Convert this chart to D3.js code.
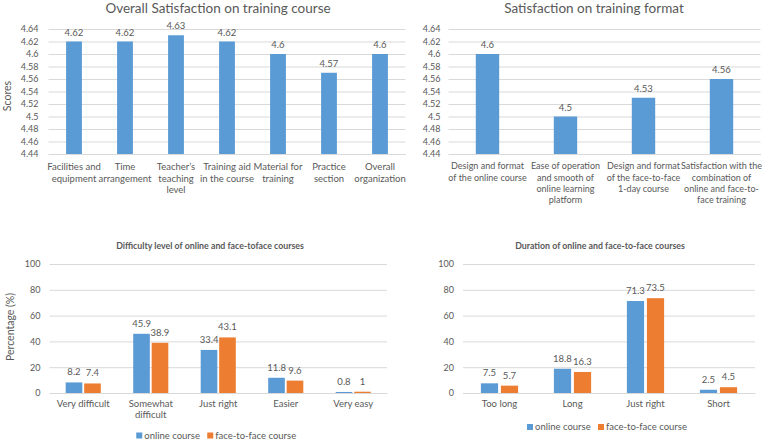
<!DOCTYPE html>
<html>
<head>
<meta charset="utf-8">
<script src="https://cdn.jsdelivr.net/npm/d3@7"></script>
<style>
  body { margin: 0; background: #fff; }
  text { font-family: Lato, "Open Sans", sans-serif; fill: #595959; }
</style>
</head>
<body>
<div id="charts"></div>
<script>
// ---- data ----
var satCategories = ["Facilities and\nequipment", "Time\narrangement", "Teacher\u2019s\nteaching\nlevel",
  "Training aid\nin the course", "Material for\ntraining", "Practice\nsection", "Overall\norganization"];
var satValues = [4.62, 4.62, 4.63, 4.62, 4.6, 4.57, 4.6];

var formatCategories = ["Design and format\nof the online course",
  "Ease of operation\nand smooth of\nonline learning\nplatform",
  "Design and format\nof the face-to-face\n1-day course",
  "Satisfaction with the\ncombination of\nonline and face-to-\nface training"];
var formatValues = [4.6, 4.5, 4.53, 4.56];

var scoreTicks = [4.44, 4.46, 4.48, 4.5, 4.52, 4.54, 4.56, 4.58, 4.6, 4.62, 4.64];

var difficultyCategories = ["Very difficult", "Somewhat\ndifficult", "Just right", "Easier", "Very easy"];
var difficultyOnline = [8.2, 45.9, 33.4, 11.8, 0.8];
var difficultyF2F = [7.4, 38.9, 43.1, 9.6, 1];

var durationCategories = ["Too long", "Long", "Just right", "Short"];
var durationOnline = [7.5, 18.8, 71.3, 2.5];
var durationF2F = [5.7, 16.3, 73.5, 4.5];

var pctTicks = [0, 20, 40, 60, 80, 100];
var seriesNames = ["online course", "face-to-face course"];
var seriesColors = ["#5B9BD5", "#ED7D31"];

var grid = "#D9D9D9";

var svg = d3.select("#charts")
  .append("svg")
  .attr("width", 762)
  .attr("height", 441);

// multi-line tick labels
function wrapLabels(sel, lineH) {
  sel.each(function(d) {
    var t = d3.select(this);
    var lines = d.split("\n");
    t.text(null);
    lines.forEach(function(l, i) {
      t.append("tspan").attr("x", 0).attr("dy", i == 0 ? "0.71em" : lineH).text(l);
    });
  });
}

function yAxis(g, y, ticks, left, right, pad, fmt) {
  var ax = g.append("g")
    .attr("transform", "translate(" + left + ",0)")
    .call(d3.axisLeft(y).tickValues(ticks).tickSize(-(right - left)).tickPadding(pad).tickFormat(fmt));
  ax.select(".domain").remove();
  ax.selectAll("line").attr("stroke", grid);
  ax.selectAll("text").style("font-size", "9px").style("fill", "#595959");
}

function xAxis(g, x, y0, labelY, lineH, fs) {
  var ax = g.append("g")
    .attr("transform", "translate(0," + y0 + ")")
    .call(d3.axisBottom(x).tickSize(0).tickPadding(0));
  ax.select(".domain").attr("stroke", grid);
  ax.selectAll("text")
    .attr("y", labelY - y0)
    .style("font-size", fs).style("fill", "#595959")
    .call(wrapLabels, lineH);
}

// ---- score charts (top) ----
function scoreChart(cats, vals, left, right, padding, title, titleX, tickPad, catFont) {
  var g = svg.append("g");
  var y = d3.scaleLinear().domain([4.44, 4.64]).range([154, 29]);
  var x = d3.scaleBand().domain(cats).range([left, right])
    .paddingInner(padding).paddingOuter(padding / 2);

  yAxis(g, y, scoreTicks, left, right, tickPad, function(d) { return +d.toFixed(2); });
  xAxis(g, x, 154, 163, "1.25em", catFont);

  g.selectAll(".bar")
    .data(vals)
    .enter()
    .append("rect")
    .attr("x", function(d, i) { return x(cats[i]); })
    .attr("width", x.bandwidth())
    .attr("y", function(d) { return y(d); })
    .attr("height", function(d) { return y(4.44) - y(d); })
    .attr("fill", seriesColors[0]);

  g.selectAll(".val")
    .data(vals)
    .enter()
    .append("text")
    .attr("x", function(d, i) { return x(cats[i]) + x.bandwidth() / 2; })
    .attr("y", function(d) { return y(d) - 6; })
    .attr("text-anchor", "middle")
    .style("font-size", "9.5px")
    .text(function(d) { return d; });

  g.append("text")
    .attr("x", titleX).attr("y", 13)
    .attr("text-anchor", "middle")
    .style("font-size", "13.5px")
    .text(title);
}

scoreChart(satCategories, satValues, 48.5, 405.5, 0.69, "Overall Satisfaction on training course", 218, 10, "9.5px");
scoreChart(formatCategories, formatValues, 448.5, 760.5, 0.7, "Satisfaction on training format", 594, 8, "9px");

svg.append("text")
  .attr("transform", "translate(11,96)rotate(-90)")
  .attr("text-anchor", "middle")
  .style("font-size", "10.5px")
  .text("Scores");

// ---- percentage charts (bottom) ----
function groupedChart(cats, online, f2f, left, right, padding, inner, title, titleX, tickPad, legendY) {
  var g = svg.append("g");
  var y = d3.scaleLinear().domain([0, 100]).range([393, 264]);
  var x = d3.scaleBand().domain(cats).range([left, right])
    .paddingInner(padding).paddingOuter(padding / 2);
  var x1 = d3.scaleBand().domain([0, 1]).range([0, x.bandwidth()]).paddingInner(inner);

  yAxis(g, y, pctTicks, left, right, tickPad, function(d) { return d; });
  xAxis(g, x, 393, 400, "1.2em", "9.5px");

  var rows = cats.map(function(c, i) { return {cat: c, vals: [online[i], f2f[i]]}; });
  var groups = g.selectAll(".grp")
    .data(rows)
    .enter()
    .append("g")
    .attr("transform", function(d) { return "translate(" + x(d.cat) + ",0)"; });

  groups.selectAll("rect")
    .data(function(d) { return d.vals; })
    .enter()
    .append("rect")
    .attr("x", function(d, i) { return x1(i); })
    .attr("width", x1.bandwidth())
    .attr("y", function(d) { return y(d); })
    .attr("height", function(d) { return y(0) - y(d); })
    .attr("fill", function(d, i) { return seriesColors[i]; });

  groups.selectAll("text.val")
    .data(function(d) { return d.vals; })
    .enter()
    .append("text")
    .attr("x", function(d, i) { return x1(i) + x1.bandwidth() / 2; })
    .attr("y", function(d) { return y(d) - 7; })
    .attr("text-anchor", "middle")
    .style("font-size", "9.5px")
    .text(function(d) { return d; });

  g.append("text")
    .attr("x", titleX).attr("y", 248.5)
    .attr("text-anchor", "middle")
    .style("font-size", "8.8px")
    .style("font-weight", "bold")
    .text(title);

  // legend
  var lg = g.append("g").attr("transform", "translate(" + ((left + right) / 2 - 82) + "," + legendY + ")");
  var item = lg.selectAll(".item")
    .data(seriesNames)
    .enter()
    .append("g")
    .attr("transform", function(d, i) { return "translate(" + (i * 71) + ",0)"; });
  item.append("rect").attr("x", 0).attr("y", -3).attr("width", 6).attr("height", 6)
    .attr("fill", function(d, i) { return seriesColors[i]; });
  item.append("text").attr("x", 8).attr("y", 0).attr("dy", "0.35em")
    .style("font-size", "9.5px")
    .text(function(d) { return d; });
}

groupedChart(difficultyCategories, difficultyOnline, difficultyF2F, 49.5, 387, 0.48, 0.1,
  "Difficulty level of online and face-toface courses", 210, 9, 435.5);
groupedChart(durationCategories, durationOnline, durationF2F, 463, 755, 0.49, 0.14,
  "Duration  of online and face-to-face  courses", 600, 9, 427);

svg.append("text")
  .attr("transform", "translate(14,327)rotate(-90)")
  .attr("text-anchor", "middle")
  .style("font-size", "10.5px")
  .text("Percentage (%)");
</script>
</body>
</html>
